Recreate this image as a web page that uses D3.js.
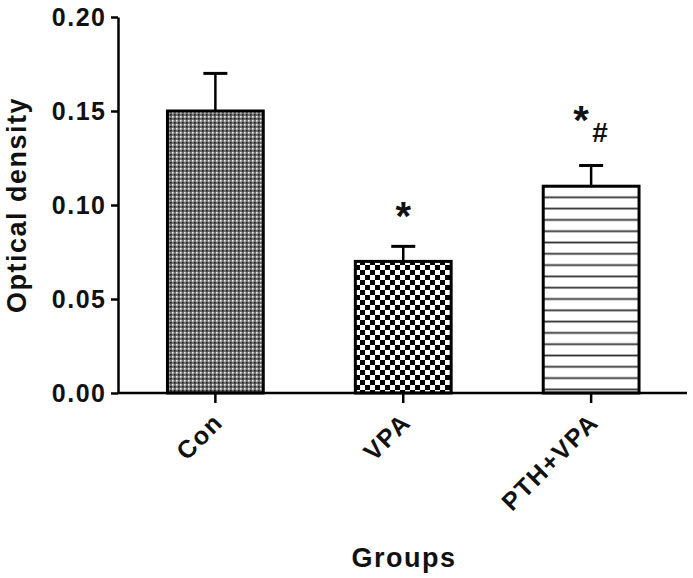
<!DOCTYPE html>
<html>
<head>
<meta charset="utf-8">
<script src="https://cdn.jsdelivr.net/npm/d3@7"></script>
<style>
  body { margin: 0; background: #fff; }
  text { font-family: "Liberation Sans", Arial, sans-serif; font-weight: bold; fill: #111; }
</style>
</head>
<body>
<svg id="chart"></svg>
<script>
// data
const groups = ['Con', 'VPA', 'PTH+VPA'];
const means = [0.15, 0.07, 0.11];
const errors = [0.02, 0.008, 0.011];
const marks = ['', '*', '*#'];   // significance marks (Con has none)
const yTicks = [0.00, 0.05, 0.10, 0.15, 0.20];

const width = 693, height = 578;
const svg = d3.select('#chart').attr('width', width).attr('height', height);

// fill patterns
const defs = svg.append('defs');
const p1 = defs.append('pattern').attr('id', 'pat-con')
  .attr('patternUnits', 'userSpaceOnUse').attr('width', 4).attr('height', 4);
p1.append('rect').attr('width', 4).attr('height', 4).attr('fill', '#727272');
p1.append('rect').attr('x', 0).attr('y', 0).attr('width', 1.6).attr('height', 1.6).attr('fill', '#eeeeee');
p1.append('rect').attr('x', 2).attr('y', 2).attr('width', 1.6).attr('height', 1.6).attr('fill', '#1a1a1a');

const p2 = defs.append('pattern').attr('id', 'pat-vpa')
  .attr('patternUnits', 'userSpaceOnUse').attr('width', 10).attr('height', 10);
p2.append('rect').attr('width', 10).attr('height', 10).attr('fill', '#fff');
p2.append('rect').attr('x', 0).attr('y', 0).attr('width', 5).attr('height', 5).attr('fill', '#000');
p2.append('rect').attr('x', 5).attr('y', 5).attr('width', 5).attr('height', 5).attr('fill', '#000');

const p3 = defs.append('pattern').attr('id', 'pat-pth')
  .attr('patternUnits', 'userSpaceOnUse').attr('width', 10).attr('height', 11.3);
p3.append('rect').attr('width', 10).attr('height', 11.3).attr('fill', '#fff');
p3.append('rect').attr('x', 0).attr('y', 4.3).attr('width', 10).attr('height', 1.8).attr('fill', '#333');

const fills = ['url(#pat-con)', 'url(#pat-vpa)', 'url(#pat-pth)'];

const x = d3.scaleBand().domain(groups)
  .range([120.5, 686]).paddingInner(0.49).paddingOuter(0.25);
const y = d3.scaleLinear().domain([0, 0.20]).range([393, 17]);

// bars
svg.selectAll('rect.bar')
  .data(groups)
  .enter().append('rect')
  .attr('class', 'bar')
  .attr('x', d => x(d))
  .attr('y', (d, i) => y(means[i]))
  .attr('width', x.bandwidth())
  .attr('height', (d, i) => y(0) - y(means[i]))
  .attr('fill', (d, i) => fills[i])
  .attr('stroke', '#000')
  .attr('stroke-width', 3);

// error bars (upper only)
const cap = 12;
groups.forEach((g, i) => {
  const cx = x(g) + x.bandwidth() / 2;
  svg.append('line')
    .attr('x1', cx).attr('x2', cx)
    .attr('y1', y(means[i])).attr('y2', y(means[i] + errors[i]))
    .attr('stroke', '#000').attr('stroke-width', 2.5);
  svg.append('line')
    .attr('x1', cx - cap).attr('x2', cx + cap)
    .attr('y1', y(means[i] + errors[i])).attr('y2', y(means[i] + errors[i]))
    .attr('stroke', '#000').attr('stroke-width', 3);
});

// significance marks
groups.forEach((g, i) => {
  const cx = x(g) + x.bandwidth() / 2;
  const top = y(means[i] + errors[i]);
  if (marks[i] === '*') {
    svg.append('text').attr('x', cx).attr('y', top - 16)
      .attr('text-anchor', 'middle').style('font-size', '40px').text('*');
  } else if (marks[i] === '*#') {
    svg.append('text').attr('x', cx - 10).attr('y', top - 32)
      .attr('text-anchor', 'middle').style('font-size', '40px').text('*');
    svg.append('text').attr('x', cx + 9).attr('y', top - 24)
      .attr('text-anchor', 'middle').style('font-size', '28px').text('#');
  }
});

// y axis
const yAxis = svg.append('g')
  .attr('transform', 'translate(118,0)')
  .call(d3.axisLeft(y).tickValues(yTicks).tickFormat(d3.format('.2f')).tickSize(7).tickSizeOuter(0).tickPadding(6));
yAxis.select('.domain').attr('stroke', '#000').attr('stroke-width', 2.5);
yAxis.selectAll('.tick line').attr('stroke', '#000').attr('stroke-width', 2.5);
yAxis.selectAll('.tick text')
  .attr('fill', '#111')
  .style('font-family', '"Liberation Sans", Arial, sans-serif')
  .style('font-weight', 'bold')
  .style('font-size', '25px')
  .style('letter-spacing', '1.5px')
  .attr('dx', 1.5);

// x axis
const xAxis = svg.append('g')
  .attr('transform', 'translate(0,393)')
  .call(d3.axisBottom(x).tickSize(10).tickSizeOuter(0));
xAxis.select('.domain').attr('d', 'M118,0H687').attr('stroke', '#000').attr('stroke-width', 2.5);
xAxis.selectAll('.tick line').attr('stroke', '#000').attr('stroke-width', 2.5);
xAxis.selectAll('.tick text')
  .attr('fill', '#111')
  .style('font-family', '"Liberation Sans", Arial, sans-serif')
  .style('font-weight', 'bold')
  .style('font-size', '25px')
  .style('letter-spacing', '1.5px')
  .attr('text-anchor', 'end')
  .attr('dy', 0)
  .attr('y', 0)
  .attr('transform', 'translate(9,31) rotate(-45)');

// axis titles
svg.append('text')
  .attr('transform', 'translate(26,205) rotate(-90)')
  .attr('text-anchor', 'middle')
  .style('font-size', '27px')
  .style('letter-spacing', '1.5px')
  .text('Optical density');

svg.append('text')
  .attr('x', 404).attr('y', 567)
  .attr('text-anchor', 'middle')
  .style('font-size', '27px')
  .style('letter-spacing', '1.5px')
  .text('Groups');
</script>
</body>
</html>
